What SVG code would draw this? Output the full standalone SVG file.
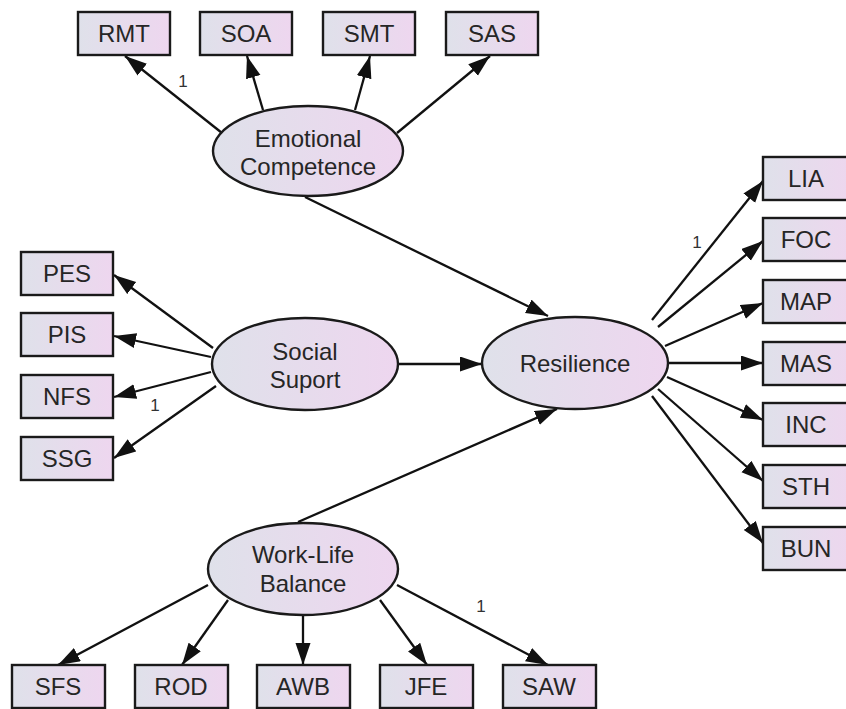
<svg xmlns="http://www.w3.org/2000/svg" width="846" height="709" viewBox="0 0 846 709">
<defs>
<linearGradient id="g" x1="0" y1="0" x2="1" y2="0">
<stop offset="0" stop-color="#dfe1ea"/>
<stop offset="1" stop-color="#eed6ef"/>
</linearGradient>
<marker id="ah" markerUnits="userSpaceOnUse" markerWidth="24" markerHeight="16" refX="22" refY="7.5" orient="auto">
<path d="M0,0 L22,7.5 L0,15 z" fill="#111"/>
</marker>
<style>
.b{fill:url(#g);stroke:#1a1a1a;stroke-width:2.4}
.e{fill:url(#g);stroke:#1a1a1a;stroke-width:2.4}
.t{font-family:"Liberation Sans",Arial,sans-serif;font-size:24px;fill:#262626;text-anchor:middle}
.n{font-family:"Liberation Sans",Arial,sans-serif;font-size:17px;fill:#333333;text-anchor:middle}
#connectors line{stroke:#111;stroke-width:2.3;marker-end:url(#ah)}
</style>
</defs>
<rect width="846" height="709" fill="#fff"/>
<g id="connectors">
<line x1="222" y1="133" x2="125" y2="56"/>
<line x1="263" y1="110" x2="247" y2="56"/>
<line x1="355" y1="110" x2="370" y2="56"/>
<line x1="397" y1="133" x2="490" y2="56"/>
<line x1="305" y1="197" x2="548" y2="316"/>
<line x1="213" y1="348" x2="114" y2="275"/>
<line x1="211" y1="357" x2="114" y2="336"/>
<line x1="211" y1="372" x2="114" y2="397"/>
<line x1="216" y1="386" x2="114" y2="458"/>
<line x1="397" y1="364" x2="482" y2="364"/>
<line x1="298" y1="522" x2="557" y2="409"/>
<line x1="208" y1="585" x2="58" y2="665"/>
<line x1="228" y1="600" x2="182" y2="665"/>
<line x1="303" y1="615" x2="303" y2="665"/>
<line x1="380" y1="600" x2="427" y2="665"/>
<line x1="397" y1="585" x2="548" y2="665"/>
<line x1="652" y1="320" x2="763" y2="181"/>
<line x1="658" y1="327" x2="763" y2="241"/>
<line x1="665" y1="346" x2="763" y2="303"/>
<line x1="667" y1="363" x2="763" y2="363"/>
<line x1="667" y1="377" x2="763" y2="420"/>
<line x1="658" y1="389" x2="763" y2="481"/>
<line x1="652" y1="396" x2="763" y2="543"/>
<text class="n" x="183" y="87">1</text>
<text class="n" x="155" y="411">1</text>
<text class="n" x="697" y="248">1</text>
<text class="n" x="481" y="612">1</text>
</g>
<g id="EC"><ellipse class="e" cx="308" cy="151" rx="95" ry="45"/><text class="t" x="308" y="147">Emotional</text><text class="t" x="308" y="175">Competence</text></g>
<g id="SS"><ellipse class="e" cx="305" cy="364" rx="93" ry="46"/><text class="t" x="305" y="360">Social</text><text class="t" x="305" y="388">Suport</text></g>
<g id="RES"><ellipse class="e" cx="575" cy="363" rx="93" ry="46"/><text class="t" x="575" y="372">Resilience</text></g>
<g id="WLB"><ellipse class="e" cx="303" cy="569" rx="95" ry="46"/><text class="t" x="303" y="563">Work-Life</text><text class="t" x="303" y="592">Balance</text></g>
<g id="RMT"><rect class="b" x="78" y="12" width="92" height="43"/><text class="t" x="124" y="42">RMT</text></g>
<g id="SOA"><rect class="b" x="200" y="12" width="92" height="43"/><text class="t" x="246" y="42">SOA</text></g>
<g id="SMT"><rect class="b" x="323" y="12" width="92" height="43"/><text class="t" x="369" y="42">SMT</text></g>
<g id="SAS"><rect class="b" x="446" y="12" width="92" height="43"/><text class="t" x="492" y="42">SAS</text></g>
<g id="PES"><rect class="b" x="21" y="252" width="92" height="43"/><text class="t" x="67" y="282">PES</text></g>
<g id="PIS"><rect class="b" x="21" y="313" width="92" height="43"/><text class="t" x="67" y="343">PIS</text></g>
<g id="NFS"><rect class="b" x="21" y="375" width="92" height="43"/><text class="t" x="67" y="405">NFS</text></g>
<g id="SSG"><rect class="b" x="21" y="437" width="92" height="43"/><text class="t" x="67" y="467">SSG</text></g>
<g id="LIA"><rect class="b" x="763" y="157" width="92" height="43"/><text class="t" x="806" y="187">LIA</text></g>
<g id="FOC"><rect class="b" x="763" y="218" width="92" height="43"/><text class="t" x="806" y="248">FOC</text></g>
<g id="MAP"><rect class="b" x="763" y="280" width="92" height="43"/><text class="t" x="806" y="310">MAP</text></g>
<g id="MAS"><rect class="b" x="763" y="342" width="92" height="43"/><text class="t" x="806" y="372">MAS</text></g>
<g id="INC"><rect class="b" x="763" y="403" width="92" height="43"/><text class="t" x="806" y="433">INC</text></g>
<g id="STH"><rect class="b" x="763" y="465" width="92" height="43"/><text class="t" x="806" y="495">STH</text></g>
<g id="BUN"><rect class="b" x="763" y="527" width="92" height="43"/><text class="t" x="806" y="557">BUN</text></g>
<g id="SFS"><rect class="b" x="12" y="665" width="93" height="43"/><text class="t" x="58" y="695">SFS</text></g>
<g id="ROD"><rect class="b" x="135" y="665" width="93" height="43"/><text class="t" x="181" y="695">ROD</text></g>
<g id="AWB"><rect class="b" x="257" y="665" width="93" height="43"/><text class="t" x="303" y="695">AWB</text></g>
<g id="JFE"><rect class="b" x="380" y="665" width="93" height="43"/><text class="t" x="426" y="695">JFE</text></g>
<g id="SAW"><rect class="b" x="503" y="665" width="93" height="43"/><text class="t" x="549" y="695">SAW</text></g>
</svg>
